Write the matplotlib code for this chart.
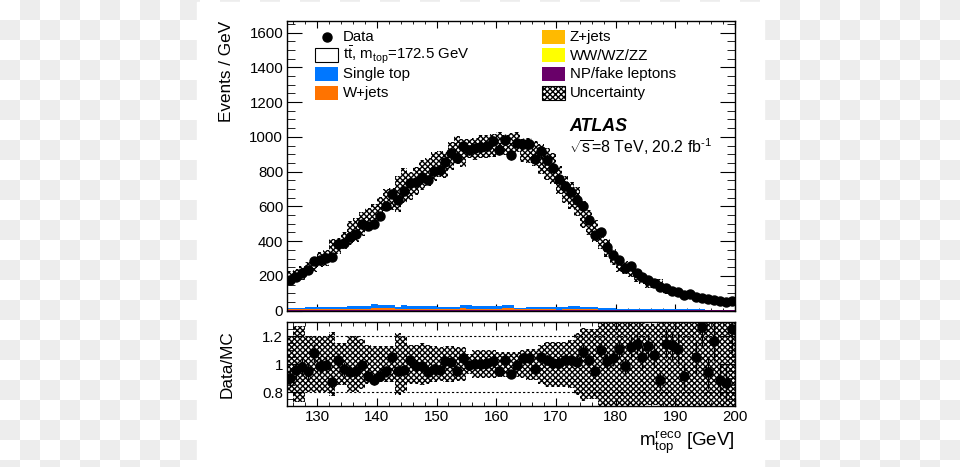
import numpy as np
import matplotlib
matplotlib.use('Agg')
import matplotlib.pyplot as plt
from matplotlib.patches import Rectangle
from matplotlib.colors import ListedColormap
from matplotlib.ticker import MultipleLocator

plt.rcParams['font.family'] = ['Liberation Sans', 'DejaVu Sans']
plt.rcParams['mathtext.fontset'] = 'custom'
plt.rcParams['mathtext.rm'] = 'Liberation Sans'
plt.rcParams['mathtext.it'] = 'Liberation Sans:italic'
plt.rcParams['mathtext.bf'] = 'Liberation Sans:bold'
plt.rcParams['hatch.linewidth'] = 1.0

# 1 GeV bins from 125 to 200 GeV
bin_lo, bin_hi = 125, 200

# data, events / GeV
data_evts = [178, 195, 214, 232, 284, 291, 301, 308, 383, 388,
             422, 440, 497, 485, 497, 543, 602, 672, 639, 690,
             737, 738, 769, 754, 802, 810, 855, 905, 880, 946,
             924, 933, 944, 948, 976, 926, 984, 897, 965, 961,
             961, 875, 917, 869, 821, 758, 719, 681, 639, 604,
             522, 435, 453, 368, 322, 290, 245, 258, 219, 193,
             176, 160, 138, 128, 116, 108, 92, 95, 80, 75,
             65, 63, 53, 48, 54]

# data / MC
ratio = [0.905, 0.956, 0.983, 0.948, 1.080, 0.990, 0.994, 0.870, 1.028, 0.964,
         0.945, 0.953, 0.995, 0.914, 0.890, 0.916, 0.948, 1.048, 0.952, 0.961,
         1.028, 0.988, 0.988, 0.945, 0.967, 0.959, 1.020, 1.017, 0.952, 1.042,
         0.991, 1.003, 1.000, 1.006, 1.025, 0.955, 1.033, 0.931, 0.995, 1.044,
         1.044, 0.966, 1.051, 1.030, 1.006, 1.009, 1.032, 1.028, 1.018, 1.090,
         1.032, 0.953, 1.104, 1.020, 1.044, 1.109, 0.989, 1.121, 1.147, 1.049,
         1.128, 1.063, 0.884, 1.147, 1.135, 1.109, 0.913, np.nan, 1.051, 1.267,
         0.941, 1.169, 0.889, 0.865, 1.253]

# relative uncertainty band, ratio panel
unc_rel = [0.20, 0.27, 0.27, 0.20, 0.20, 0.20, 0.20, 0.23, 0.15, 0.15,
           0.20, 0.20, 0.18, 0.14, 0.13, 0.13, 0.13, 0.13, 0.22, 0.20,
           0.14, 0.14, 0.15, 0.14, 0.13, 0.12, 0.13, 0.13, 0.12, 0.12,
           0.07, 0.10, 0.10, 0.10, 0.10, 0.09, 0.09, 0.09, 0.09, 0.10,
           0.11, 0.11, 0.14, 0.16, 0.16, 0.16, 0.16, 0.17, 0.22, 0.26,
           0.25, 0.25, 0.30, 0.40, 0.40, 0.40, 0.40, 0.40, 0.40, 0.40,
           0.29, 0.29, 0.40, 0.40, 0.40, 0.40, 0.40, 0.40, 0.40, 0.40,
           0.40, 0.40, 0.40, 0.40, 0.40]

# relative uncertainty band as it appears in the upper panel
unc_rel_main = [0.15, 0.18, 0.18, 0.15, 0.15, 0.15, 0.15, 0.16, 0.12, 0.12,
                0.15, 0.15, 0.14, 0.11, 0.10, 0.10, 0.10, 0.10, 0.15, 0.14,
                0.11, 0.11, 0.11, 0.10, 0.10, 0.09, 0.09, 0.09, 0.09, 0.09,
                0.06, 0.07, 0.07, 0.07, 0.07, 0.06, 0.06, 0.06, 0.06, 0.07,
                0.08, 0.08, 0.10, 0.11, 0.11, 0.11, 0.11, 0.12, 0.13, 0.14,
                0.14, 0.14, 0.14, 0.15, 0.15, 0.15, 0.15, 0.15, 0.15, 0.15,
                0.15, 0.15, 0.15, 0.15, 0.15, 0.15, 0.15, 0.15, 0.15, 0.15,
                0.15, 0.15, 0.15, 0.15, 0.15]

# backgrounds, events / GeV
single_top = [8, 8, 9, 15, 14, 15, 12, 11, 12, 11,
              18, 19, 18, 17, 21, 18, 17, 18, 13, 21,
              17, 18, 17, 16, 17, 14, 15, 14, 14, 19,
              21, 16, 15, 16, 16, 15, 19, 20, 9, 8,
              12, 11, 12, 12, 11, 12, 11, 18, 17, 12,
              12, 11, 8, 8, 7, 7, 7, 6, 6, 6,
              6, 5, 5, 5, 5, 4, 4, 4, 4, 4,
              3, 3, 3, 3, 3]
w_jets = [3, 3, 2, 4, 5, 4, 4, 4, 3, 4,
          5, 5, 6, 6, 12, 10, 11, 10, 5, 7,
          6, 5, 6, 6, 5, 5, 4, 5, 5, 9,
          7, 5, 6, 5, 5, 6, 10, 9, 3, 4,
          4, 4, 3, 4, 4, 3, 4, 5, 6, 4,
          4, 4, 3, 2, 3, 2, 2, 2, 2, 2,
          2, 2, 2, 1, 1, 1, 1, 1, 1, 1,
          1, 1, 1, 1, 1]
z_jets = [1.5, 1.5, 1.5, 1.5, 1.5, 1.5, 1.5, 1.5, 1.5, 1.5,
          1.5, 1.5, 1.5, 1.5, 1.5, 1.5, 1.5, 1.5, 1.5, 1.5,
          1.5, 1.5, 1.5, 1.5, 1.5, 1.5, 1.5, 1.5, 1.5, 1.5,
          1.5, 1.5, 1.5, 1.5, 1.5, 1.5, 1.5, 1.5, 1.0, 1.0,
          1.0, 1.0, 1.0, 1.0, 1.0, 1.0, 1.0, 1.0, 1.0, 1.0,
          1.0, 1.0, 1.0, 1.0, 1.0, 0.8, 0.8, 0.8, 0.8, 0.8,
          0.6, 0.6, 0.6, 0.6, 0.6, 0.5, 0.5, 0.5, 0.5, 0.5,
          0.4, 0.4, 0.4, 0.4, 0.4]
diboson = [0.5, 0.5, 0.5, 0.5, 0.5, 0.5, 0.5, 0.5, 0.5, 0.5,
           0.5, 0.5, 0.5, 0.5, 0.5, 0.5, 0.5, 0.5, 0.5, 0.5,
           0.5, 0.5, 0.5, 0.5, 0.5, 0.5, 0.5, 0.5, 0.5, 0.5,
           0.5, 0.5, 0.5, 0.5, 0.5, 0.5, 0.5, 0.5, 0.5, 0.5,
           0.4, 0.4, 0.4, 0.4, 0.4, 0.4, 0.4, 0.4, 0.4, 0.4,
           0.3, 0.3, 0.3, 0.3, 0.3, 0.3, 0.3, 0.3, 0.3, 0.3,
           0.2, 0.2, 0.2, 0.2, 0.2, 0.2, 0.2, 0.2, 0.2, 0.2,
           0.2, 0.2, 0.2, 0.2, 0.2]
fakes = [3, 3, 3, 3, 3, 3, 3, 3, 3, 3,
         3, 3, 3, 3, 3, 3, 3, 3, 3, 3,
         3, 3, 3, 3, 3, 3, 3, 3, 3, 3,
         3, 3, 3, 3, 3, 3, 3, 3, 3, 3,
         3, 3, 3, 3, 3, 2.5, 2.5, 2.5, 2.5, 2.5,
         2.5, 2.5, 2.5, 2.5, 2.5, 2, 2, 2, 2, 2,
         2, 2, 2, 2, 2, 1.5, 1.5, 1.5, 1.5, 1.5,
         1.5, 1.5, 1.5, 1.5, 1.5]

c_stop = '#0077ff'
c_wjets = '#ff7300'
c_zjets = '#ffba00'
c_vv = '#ffff00'
c_fake = '#690069'
hatch = 'xxxxxx'
fs = 10.8

edges = np.arange(bin_lo, bin_hi + 1)
centers = edges[:-1] + 0.5
data = np.array(data_evts, dtype=float)
rat = np.array(ratio, dtype=float)
unc = np.array(unc_rel)
unc_m = np.array(unc_rel_main)
mc = np.where(np.isnan(rat), data, data / rat)

W, H = 960, 467
fig = plt.figure(figsize=(W / 100, H / 100), dpi=100)

# checkerboard page background
bg = fig.add_axes([0, 0, 1, 1], zorder=-10)
checker = np.add.outer(np.arange(24), np.arange(48)) % 2
bg.imshow(checker, cmap=ListedColormap(['white', '#ededed']),
          extent=(0, 960, 480, 0), interpolation='nearest', aspect='auto')
bg.add_patch(Rectangle((197, 1.5), 567, 470, color='white'))
bg.set_xlim(0, W)
bg.set_ylim(H, 0)
bg.axis('off')


def px_axes(l, t, r, b):
    return [l / W, 1 - b / H, (r - l) / W, (b - t) / H]


ax = fig.add_axes(px_axes(287.3, 20.7, 735, 310.7))
axr = fig.add_axes(px_axes(287.3, 322.2, 735, 406.2))

# stacked backgrounds
bottom = np.zeros(len(centers))
for vals, col in [(fakes, c_fake), (diboson, c_vv), (z_jets, c_zjets),
                  (w_jets, c_wjets), (single_top, c_stop)]:
    top = bottom + np.array(vals)
    ax.stairs(top, edges, baseline=bottom, fill=True, color=col, lw=0, zorder=2)
    bottom = top

# uncertainty band
lo = mc * (1 - unc_m)
hi = mc * (1 + unc_m)
ax.fill_between(edges, np.append(lo, lo[-1]), np.append(hi, hi[-1]), step='post',
                facecolor='none', edgecolor='k', hatch=hatch, lw=0, zorder=3)
ax.errorbar(centers, data, yerr=np.sqrt(data), fmt='o', color='k', ms=6.5,
            elinewidth=1, capsize=0, zorder=5)

ax.set_xlim(bin_lo, bin_hi)
ax.set_ylim(0, 1668)
ax.yaxis.set_major_locator(MultipleLocator(200))
ax.yaxis.set_minor_locator(MultipleLocator(50))
ax.xaxis.set_major_locator(MultipleLocator(10))
ax.xaxis.set_minor_locator(MultipleLocator(2))
ax.tick_params(which='both', direction='in', top=True, right=True, labelsize=fs)
ax.tick_params(axis='y', which='major', length=10.8, pad=3)
ax.tick_params(axis='y', which='minor', length=5.5)
ax.tick_params(axis='x', which='major', length=5, labelbottom=False)
ax.tick_params(axis='x', which='minor', length=2.5)
ax.set_ylabel('Events / GeV', fontsize=12.3, loc='top')
ax.yaxis.set_label_coords(-0.119, 1.0)

# ratio panel
for yl in (0.8, 1.2):
    axr.axhline(yl, color='k', lw=0.8, ls=(0, (2, 2)), zorder=1)
axr.fill_between(edges, np.append(1 - unc, 1 - unc[-1]), np.append(1 + unc, 1 + unc[-1]),
                 step='post', facecolor='none', edgecolor='k', hatch=hatch, lw=0, zorder=3)
axr.errorbar(centers, rat, yerr=rat / np.sqrt(data), fmt='o', color='k', ms=6.5,
             elinewidth=1, capsize=0, zorder=5)
axr.set_xlim(bin_lo, bin_hi)
axr.set_ylim(0.7, 1.3)
axr.set_yticks([0.8, 1.0, 1.2])
axr.set_yticklabels(['0.8', '1', '1.2'])
axr.yaxis.set_minor_locator(MultipleLocator(0.05))
axr.xaxis.set_major_locator(MultipleLocator(10))
axr.xaxis.set_minor_locator(MultipleLocator(2))
axr.tick_params(which='both', direction='in', top=True, right=True, labelsize=fs)
axr.tick_params(axis='y', which='major', length=10.8, pad=3)
axr.tick_params(axis='y', which='minor', length=5.5)
axr.tick_params(axis='x', which='major', length=6, pad=3)
axr.tick_params(axis='x', which='minor', length=3)
axr.set_ylabel('Data/MC', fontsize=12.3)
axr.yaxis.set_label_coords(-0.117, 0.5)
axr.set_xlabel(r'm$^{\mathrm{reco}}_{\mathrm{top}}$ [GeV]', fontsize=13.5, loc='right')
axr.xaxis.set_label_coords(1.0, -0.27)

for a in (ax, axr):
    for s in a.spines.values():
        s.set_linewidth(1.0)

# overlay in pixel coordinates for the legend and labels
ov = fig.add_axes([0, 0, 1, 1], zorder=10)
ov.set_xlim(0, W)
ov.set_ylim(H, 0)
ov.axis('off')

leg_cols = [
    [('data', None, 'Data'),
     ('box', 'white', r'$\mathrm{t\bar{t}}$, m$_{\mathrm{top}}$=172.5 GeV'),
     ('box', c_stop, 'Single top'),
     ('box', c_wjets, 'W+jets')],
    [('box', c_zjets, 'Z+jets'),
     ('box', c_vv, 'WW/WZ/ZZ'),
     ('box', c_fake, 'NP/fake leptons'),
     ('hatch', 'white', 'Uncertainty')],
]
col_x = [315, 542]
row_base = [40.7, 59.5, 78.2, 97.0]
box_w, box_h = 23.3, 14
for cx, entries in zip(col_x, leg_cols):
    for yb, (kind, col, lab) in zip(row_base, entries):
        yc = yb - 4.2
        if kind == 'data':
            ov.plot([cx + box_w / 2], [yc], 'o', color='k', ms=6.5)
        elif kind == 'hatch':
            ov.add_patch(Rectangle((cx, yc - box_h / 2), box_w, box_h, facecolor='white',
                                   edgecolor='k', lw=0.8, hatch=hatch))
        elif col == 'white':
            ov.add_patch(Rectangle((cx, yc - box_h / 2), box_w, box_h, facecolor='white',
                                   edgecolor='k', lw=0.8))
        else:
            ov.add_patch(Rectangle((cx, yc - box_h / 2), box_w, box_h, color=col, lw=0))
        ov.text(cx + 28, yb, lab, fontsize=fs, va='baseline', ha='left')

ov.text(569, 130.7, 'ATLAS', fontsize=12.9, fontweight='bold', style='italic',
        va='baseline')
ov.text(569, 153.3, r'$\sqrt{\mathrm{s}}$=8 TeV, 20.2 fb$^{\text{-1}}$', fontsize=11.4,
        va='baseline')

fig.savefig('out.png', dpi=100)
